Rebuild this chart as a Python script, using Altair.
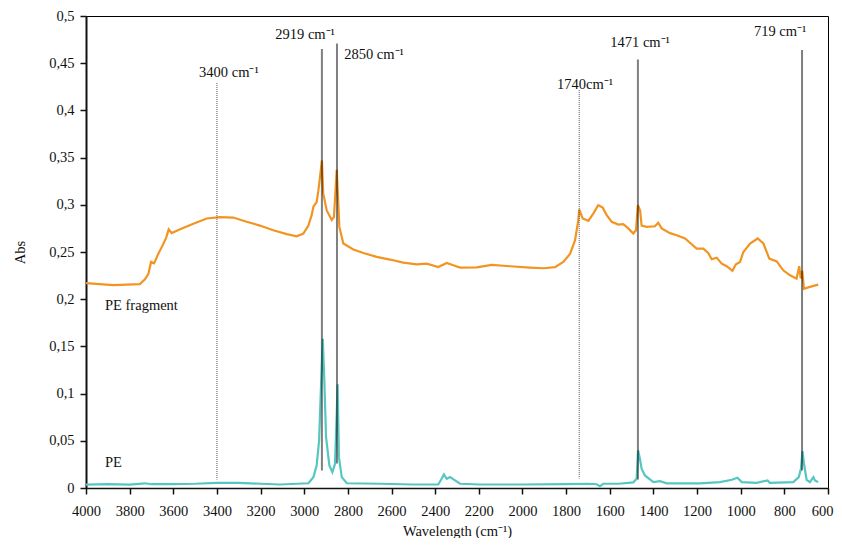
import altair as alt
import pandas as pd

# PE fragment spectrum (orange)
frag_wn = [4000, 3875, 3753, 3730, 3714, 3702, 3688, 3669, 3649, 3633, 3621, 3607, 3569, 3508,
           3447, 3386, 3325, 3264, 3203, 3142, 3080, 3035, 3004, 2981, 2966, 2958, 2943, 2935,
           2925, 2919, 2913, 2897, 2874, 2864, 2851, 2839, 2821, 2775, 2729, 2668, 2607, 2546,
           2485, 2439, 2386, 2347, 2317, 2286, 2210, 2141, 2057, 1966, 1905, 1851, 1813, 1782,
           1759, 1744, 1740, 1724, 1698, 1675, 1653, 1632, 1614, 1591, 1561, 1538, 1515, 1492,
           1480, 1471, 1461, 1454, 1431, 1393, 1378, 1362, 1324, 1293, 1255, 1225, 1202, 1171,
           1149, 1133, 1110, 1087, 1064, 1038, 1022, 1003, 988, 957, 922, 896, 869, 835, 805,
           774, 744, 732, 725, 718, 710, 683, 645]
frag_abs = [0.217, 0.215, 0.216, 0.221, 0.227, 0.2395, 0.238, 0.248, 0.257, 0.265, 0.274, 0.270,
            0.274, 0.280, 0.2855, 0.287, 0.2865, 0.282, 0.278, 0.273, 0.269, 0.2667, 0.2695,
            0.278, 0.289, 0.298, 0.303, 0.3155, 0.335, 0.347, 0.312, 0.294, 0.284, 0.287, 0.337,
            0.2766, 0.259, 0.2526, 0.249, 0.2448, 0.242, 0.2388, 0.237, 0.2377, 0.234, 0.2384,
            0.236, 0.2335, 0.2338, 0.2363, 0.2349, 0.2335, 0.2328, 0.234, 0.2395, 0.248, 0.2625,
            0.2837, 0.295, 0.2855, 0.283, 0.291, 0.2996, 0.297, 0.289, 0.282, 0.279, 0.2794,
            0.275, 0.2696, 0.273, 0.2996, 0.294, 0.278, 0.2766, 0.2773, 0.281, 0.275, 0.270,
            0.2678, 0.2643, 0.2582, 0.2536, 0.2536, 0.249, 0.2423, 0.244, 0.2377, 0.2349, 0.230,
            0.237, 0.2395, 0.250, 0.259, 0.2643, 0.259, 0.243, 0.240, 0.2306, 0.2253, 0.2218,
            0.2349, 0.222, 0.230, 0.211, 0.213, 0.2155]

# PE reference spectrum (teal)
pe_wn = [4000, 3900, 3800, 3730, 3700, 3600, 3500, 3400, 3300, 3200, 3111, 2981, 2958, 2943,
         2932, 2925, 2915, 2908, 2900, 2885, 2871, 2859, 2851, 2847, 2841, 2828, 2805, 2653,
         2500, 2386, 2373, 2360, 2347, 2332, 2309, 2286, 2195, 2000, 1800, 1700, 1660, 1645,
         1630, 1560, 1492, 1477, 1470, 1462, 1454, 1439, 1400, 1370, 1339, 1187, 1095, 1041,
         1015, 995, 927, 877, 866, 759, 734, 724, 717, 710, 698, 683, 667, 660, 645]
pe_abs = [0.0035, 0.004, 0.0035, 0.005, 0.004, 0.0042, 0.0045, 0.0055, 0.0055, 0.0045, 0.0037,
          0.005, 0.0115, 0.024, 0.050, 0.096, 0.158, 0.114, 0.054, 0.024, 0.0168, 0.0257, 0.0787,
          0.110, 0.0327, 0.0115, 0.005, 0.0045, 0.0037, 0.0037, 0.0087, 0.0143, 0.0097, 0.0115,
          0.008, 0.0045, 0.0037, 0.0037, 0.004, 0.0045, 0.004, 0.002, 0.0045, 0.0045, 0.006,
          0.0097, 0.0398, 0.031, 0.0204, 0.0133, 0.0062, 0.0072, 0.005, 0.005, 0.0062, 0.0087,
          0.0108, 0.0062, 0.0055, 0.008, 0.0055, 0.0062, 0.0115, 0.0204, 0.039, 0.0257, 0.0087,
          0.0062, 0.0115, 0.008, 0.0062]

# Marker lines
mark_wn = [3400, 2919, 2850, 1740, 1471, 719]
mark_top = [0.429, 0.465, 0.471, 0.4215, 0.454, 0.464]
mark_bottom = [0.009, 0.0186, 0.026, 0.010, 0.009, 0.0186]
mark_style = ["dotted", "solid", "solid", "dotted", "solid", "solid"]

# Marker labels
label_text = ["3400 cm\u207b\u00b9", "2919 cm\u207b\u00b9", "2850 cm\u207b\u00b9",
              "1740cm\u207b\u00b9", "1471 cm\u207b\u00b9", "719 cm\u207b\u00b9"]
label_wn = [3345, 2996, 2680, 1713, 1461, 819]
label_abs = [0.44, 0.48, 0.459, 0.427, 0.471, 0.483]

# Series labels
series_text = ["PE fragment", "PE"]
series_wn = [3913, 3913]
series_abs = [0.193, 0.027]

x_ticks = list(range(600, 4001, 200))
y_ticks = [round(i * 0.05, 2) for i in range(11)]

frag_df = pd.DataFrame({"wn": frag_wn, "abs": frag_abs})
pe_df = pd.DataFrame({"wn": pe_wn, "abs": pe_abs})
marks_df = pd.DataFrame({"wn": mark_wn, "top": mark_top, "bottom": mark_bottom, "style": mark_style})
labels_df = pd.DataFrame({"text": label_text, "wn": label_wn, "abs": label_abs})
series_df = pd.DataFrame({"text": series_text, "wn": series_wn, "abs": series_abs})

x_scale = alt.Scale(domain=[600, 4000], reverse=True, nice=False, zero=False)
y_scale = alt.Scale(domain=[0, 0.5], nice=False)

x_axis = alt.Axis(values=x_ticks, format="d", title="Wavelength (cm\u207b\u00b9)", grid=False,
                  tickSize=6, labelPadding=10, titleX=371, titleY=43, titleBaseline="middle",
                  domainWidth=1.5, labelFlush=False,
                  labelOffset={"condition": {"test": "datum.value == 600", "value": -6}, "value": 0})
y_axis = alt.Axis(values=y_ticks, title="Abs", grid=False, tickSize=6, labelPadding=6,
                  labelExpr="replace(format(datum.value, '.2~f'), '.', ',')",
                  titleX=-66, titleY=236, titleBaseline="middle", domainWidth=2)

X = alt.X("wn:Q", scale=x_scale, axis=x_axis)
Y = alt.Y("abs:Q", scale=y_scale, axis=y_axis)

frag_line = alt.Chart(frag_df).mark_line(color="#F39422", strokeWidth=2.2).encode(x=X, y=Y)
pe_line = alt.Chart(pe_df).mark_line(color="#55C6C2", strokeWidth=2.2).encode(x=X, y=Y)

solid_rules = alt.Chart(marks_df).transform_filter(alt.datum.style == "solid").mark_rule(
    color="#000000", opacity=0.5, strokeWidth=2
).encode(x=alt.X("wn:Q", scale=x_scale), y=alt.Y("top:Q", scale=y_scale), y2="bottom:Q")

dotted_rules = alt.Chart(marks_df).transform_filter(alt.datum.style == "dotted").mark_rule(
    color="#555555", strokeWidth=1, strokeDash=[1, 1]
).encode(x=alt.X("wn:Q", scale=x_scale), y=alt.Y("top:Q", scale=y_scale), y2="bottom:Q")

labels = alt.Chart(labels_df).mark_text(
    font="Liberation Serif", fontSize=14.5, color="#111111", align="center", baseline="middle"
).encode(x=alt.X("wn:Q", scale=x_scale), y=alt.Y("abs:Q", scale=y_scale), text="text:N")

series_labels = alt.Chart(series_df).mark_text(
    font="Liberation Serif", fontSize=14.5, color="#111111", align="left", baseline="middle"
).encode(x=alt.X("wn:Q", scale=x_scale), y=alt.Y("abs:Q", scale=y_scale), text="text:N")

chart = alt.layer(frag_line, pe_line, solid_rules, dotted_rules, labels, series_labels).properties(
    width=742, height=472,
    autosize=alt.AutoSizeParams(type="none"),
    padding={"left": 78, "top": 8, "right": 6, "bottom": 50},
).configure(
    font="Liberation Serif"
).configure_view(
    stroke="#000000", strokeWidth=1
).configure_axis(
    labelFont="Liberation Serif", titleFont="Liberation Serif", labelFontSize=14.5,
    titleFontSize=14.5, titleFontWeight="normal", labelColor="#111111", titleColor="#111111",
    domainColor="#111111", tickColor="#111111", tickWidth=1.5
)

chart.save("out.html", embed_options={"renderer": "svg", "actions": False})
